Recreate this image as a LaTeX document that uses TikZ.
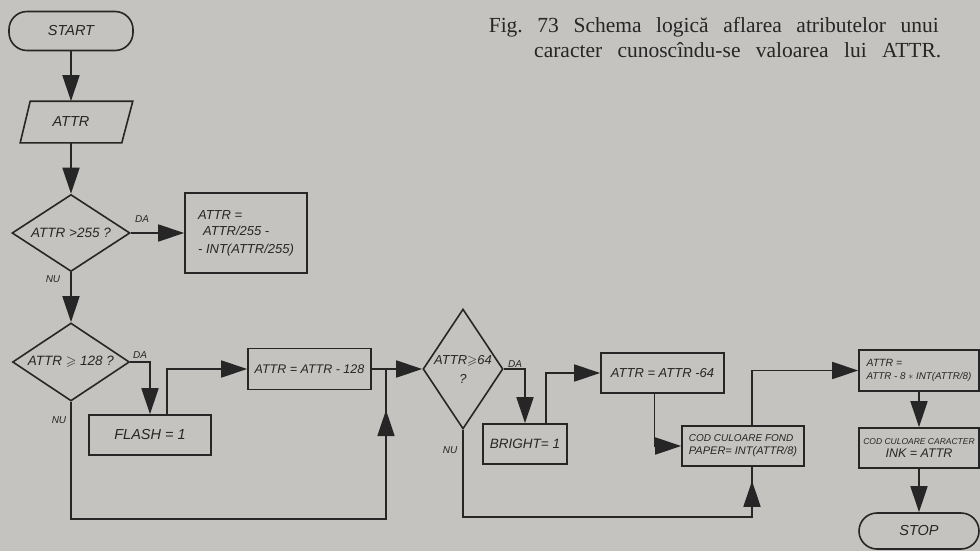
\documentclass[tikz,border=0pt]{standalone}
\usepackage{amssymb}
\usepackage{fontspec}
\setmainfont{Liberation Serif}
\newfontfamily\hand{Liberation Sans}
\usetikzlibrary{arrows.meta,shapes.geometric,decorations.markings,calc}
\definecolor{paper}{RGB}{196,195,192}
\definecolor{ink}{RGB}{38,38,38}
\newcommand\hf[1]{\fontsize{#1}{#1}\hand\itshape\selectfont}
\frenchspacing
\begin{document}
\begin{tikzpicture}[x=1pt,y=-1pt,line width=1.6pt,color=ink,
  box/.style={draw,rectangle,inner sep=2pt},
  term/.style={draw,rectangle,rounded corners=18pt},
  dia/.style={draw,diamond,inner sep=0pt},
  lbl/.style={font=\hf{10},inner sep=0pt},
  arr/.style={-{Triangle[length=26pt,width=17pt]}},
  midarr/.style={postaction={decorate},decoration={markings,mark=at position #1 with {\arrow{Triangle[length=26pt,width=17pt]}}}}]
\fill[paper] (0,0) rectangle (980,551);
\useasboundingbox (0,0) rectangle (980,551);

% caption
\node[anchor=base west,inner sep=0pt,font=\fontsize{21.5}{21.5}\selectfont] (cap1) at (488,33)
  {\makebox[450pt][s]{Fig. 73 Schema logică aflarea atributelor unui}};
\node[anchor=base east,inner sep=0pt,font=\fontsize{21.5}{21.5}\selectfont] (cap2) at (942,58)
  {\makebox[407pt][s]{caracter cunoscîndu-se valoarea lui ATTR.}};

% nodes
\node[term,minimum width=124pt,minimum height=39pt,font=\hf{14.5}] (start) at (71,31) {START};
\node[minimum width=100pt,minimum height=40pt,inner sep=0pt,font=\hf{14.5}] (attr) at (71,122) {ATTR};
\draw ([xshift=10pt]attr.north west) -- ([xshift=11pt]attr.north east) -- (attr.south east) -- (attr.south west) -- cycle;
\node[dia,minimum width=118pt,minimum height=77pt,aspect=1.53,font=\hf{13.5}] (d1) at (71,233) {ATTR >255 ?};
\node[box,minimum width=122pt,minimum height=80pt,align=left,font=\hf{13}] (b1) at (246,233)
  {ATTR =\\[3pt]\hspace*{5pt}ATTR/255 -\\[5pt]- INT(ATTR/255)};
\node[dia,minimum width=117pt,minimum height=78pt,aspect=1.5,font=\hf{13.5}] (d2) at (71,362) {ATTR $\geqslant$ 128 ?};
\node[box,minimum width=122pt,minimum height=40pt,font=\hf{14.5}] (flash) at (150,435) {FLASH = 1};
\node[box,minimum width=123pt,minimum height=41pt,font=\hf{12.5}] (b128) at (309.5,369) {ATTR = ATTR - 128};
\node[dia,minimum width=80pt,minimum height=120pt,aspect=0.667,align=center,font=\hf{13}] (d3) at (463,369) {ATTR$\geqslant$64\\[6pt]?};
\node[box,minimum width=84pt,minimum height=40pt,font=\hf{13.5}] (bright) at (525,444) {BRIGHT= 1};
\node[box,minimum width=123pt,minimum height=40pt,font=\hf{13}] (b64) at (662.5,373) {ATTR = ATTR -64};
\node[box,minimum width=122pt,minimum height=40pt,align=left] (fond) at (743,446)
  {\hf{10}COD CULOARE FOND\\[1pt]\hf{11}PAPER= INT(ATTR/8)};
\node[box,minimum width=120pt,minimum height=41pt,align=left] (b8) at (919,370.5)
  {\hf{10.5}ATTR =\\[1pt]\hf{9.8}ATTR - 8 $*$ INT(ATTR/8)};
\node[box,minimum width=120pt,minimum height=40pt,align=center] (car) at (919,448)
  {\hf{8.5}COD CULOARE CARACTER\\[1pt]\hf{12.5}INK = ATTR};
\node[term,minimum width=120pt,minimum height=36pt,font=\hf{14.5}] (stop) at (919,531) {STOP};

% labels
\node[lbl] (da1) at (142,219) {DA};
\node[lbl] (nu1) at (53,279) {NU};
\node[lbl] (da2) at (140,355) {DA};
\node[lbl] (nu2) at (59,420) {NU};
\node[lbl] (da3) at (515,364) {DA};
\node[lbl] (nu3) at (450,450) {NU};

% connectors
\coordinate (j1) at (386,369);
\draw[arr] (start.south) -- (attr.north);
\draw[arr] (attr.south) -- (d1.north);
\draw[arr] (d1.east) -- (b1.west);
\draw[arr] (d1.south) -- (d2.north);
\draw[arr] (d2.east) -| (flash.north);
\draw[arr] ([xshift=17pt]flash.north) |- (b128.west);
\draw[arr] (b128.east) -- (d3.west);
\draw[midarr=-41pt] (d2.south) |- ($(j1)+(0,150)$) -- (j1);
\draw[arr] (d3.east) -| (bright.north);
\draw[arr] ([xshift=21pt]bright.north) |- (b64.west);
\draw[arr] ([xshift=-8pt]b64.south) |- (fond.west);
\draw[midarr=-14pt] (d3.south) |- ($([xshift=9pt]fond.south)+(0,50)$) -- ([xshift=9pt]fond.south);
\draw[arr] ([xshift=9pt]fond.north) |- (b8.west);
\draw[arr] (b8.south) -- (car.north);
\draw[arr] (car.south) -- (stop.north);
\end{tikzpicture}
\end{document}
